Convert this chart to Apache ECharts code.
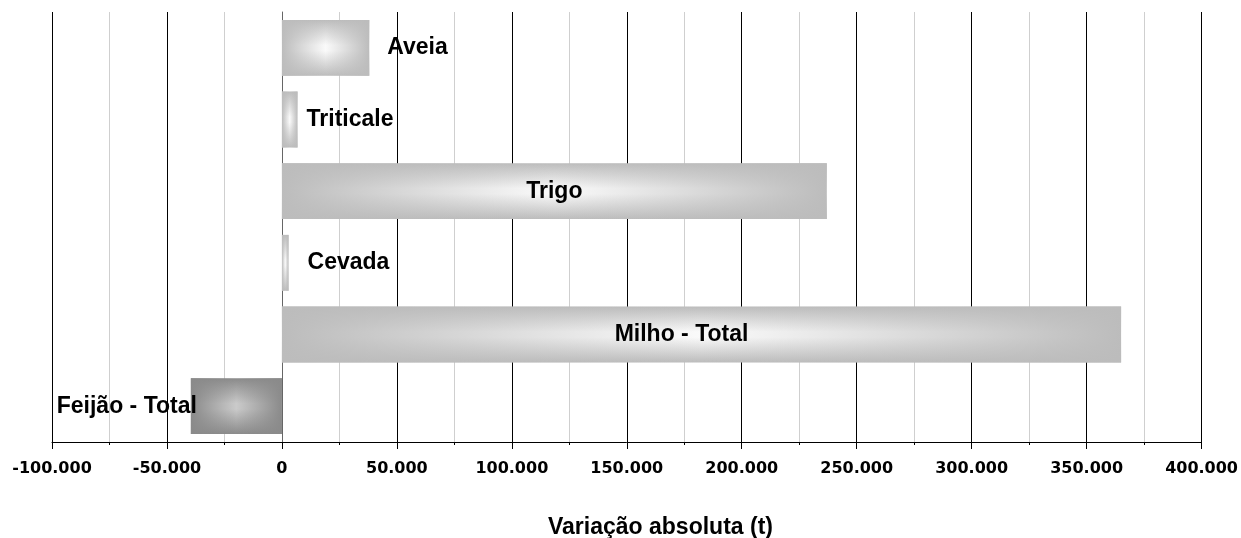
<!DOCTYPE html>
<html>
<head>
<meta charset="utf-8">
<script src="https://cdn.jsdelivr.net/npm/echarts@6/dist/echarts.min.js"></script>
<style>
    html, body { margin: 0; padding: 0; background: #fff; }
    #box { width: 1241px; height: 538px; }
</style>
</head>
<body>
<div id="box"></div>
<script>
// culturas, de cima para baixo
var culturas = ['Aveia', 'Triticale', 'Trigo', 'Cevada', 'Milho - Total', 'Feijão - Total'];
var variacao = [38000, 6800, 237000, 2900, 365000, -39600]; // t
var xTicks = [-100000, 400000, 50000]; // min, max, intervalo

function cinza(edge, center) {
    return {
        base: new echarts.graphic.LinearGradient(0, 0, 0, 1, [
            { offset: 0, color: edge },
            { offset: 0.45, color: center },
            { offset: 0.55, color: center },
            { offset: 1, color: edge }
        ]),
        over: new echarts.graphic.LinearGradient(0, 0, 1, 0, [
            { offset: 0, color: edge },
            { offset: 0.5, color: echarts.color.modifyAlpha(edge, 0) },
            { offset: 1, color: edge }
        ])
    };
}

var claro = cinza('rgb(188,188,188)', 'rgb(250,250,250)');
var escuro = cinza('rgb(138,138,138)', 'rgb(202,202,202)');

// posicao do rotulo de cada barra
var rotulos = [
    { position: 'right', distance: 18 },
    { position: 'right', distance: 9 },
    { position: 'inside' },
    { position: 'right', distance: 19 },
    { position: 'inside', offset: [-20, 0] },
    { position: 'left', distance: -6 }
];

var baseData = [], overData = [];
for (var i = 0; i < culturas.length; i++) {
    var g = variacao[i] < 0 ? escuro : claro;
    baseData.push({ value: variacao[i], itemStyle: { color: g.base } });
    overData.push({ value: variacao[i], itemStyle: { color: g.over }, label: rotulos[i] });
}

var myChart = echarts.init(document.getElementById('box'));
var option = {
    backgroundColor: '#fff',
    animation: false,
    title: {
        text: 'Variação absoluta (t)',
        left: 543,
        top: 511,
        textStyle: { fontFamily: 'Liberation Sans', fontWeight: 'bold', fontSize: 23, color: '#000' }
    },
    grid: { left: 52, right: 38, top: 12, bottom: 96 },
    xAxis: {
        type: 'value',
        min: xTicks[0],
        max: xTicks[1],
        interval: xTicks[2],
        axisLine: { show: true, lineStyle: { color: '#000', width: 1 } },
        axisTick: { show: true, length: 7, lineStyle: { color: '#000' } },
        minorTick: { show: true, splitNumber: 2, length: 3, lineStyle: { color: '#000' } },
        splitLine: { show: true, lineStyle: { color: '#000', width: 1 } },
        minorSplitLine: { show: true, lineStyle: { color: '#cfcfcf', width: 1 } },
        axisLabel: {
            margin: 19,
            color: '#000',
            fontFamily: 'DejaVu Sans',
            fontWeight: 'bold',
            fontSize: 16,
            formatter: function (v) {
                return v.toLocaleString('de-DE');
            }
        }
    },
    yAxis: {
        type: 'category',
        inverse: true,
        data: culturas,
        axisLine: { show: true, onZero: true, lineStyle: { color: '#666', width: 1 } },
        axisTick: { show: false },
        axisLabel: { show: false },
        splitLine: { show: false }
    },
    series: [{
        type: 'bar',
        data: baseData,
        barCategoryGap: '22%',
        z: 2
    }, {
        type: 'bar',
        data: overData,
        barGap: '-100%',
        barCategoryGap: '22%',
        silent: true,
        label: {
            show: true,
            color: '#000',
            fontFamily: 'Liberation Sans',
            fontWeight: 'bold',
            fontSize: 23,
            formatter: function (p) { return p.name; }
        },
        z: 3
    }]
};
myChart.setOption(option);
</script>
</body>
</html>
